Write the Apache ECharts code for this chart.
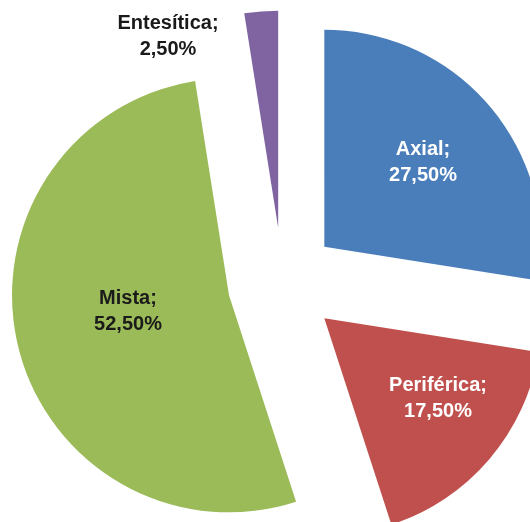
<!DOCTYPE html>
<html>
<head>
<meta charset="utf-8">
<script src="https://cdn.jsdelivr.net/npm/echarts@6/dist/echarts.min.js"></script>
<style>
  html, body { margin: 0; padding: 0; background: #fff; }
  #chart { width: 530px; height: 522px; }
</style>
</head>
<body>
<div id="chart"></div>
<script>
const categories = ['Axial', 'Periférica', 'Mista', 'Entesítica'];
const values = [27.5, 17.5, 52.5, 2.5];

const colors = ['#4a7ebb', '#c0504d', '#9bbb59', '#8064a2'];
const labelColors = ['#ffffff', '#ffffff', '#1a1a1a', '#1a1a1a'];
// label centres, same order as categories
const labelPos = [[423, 162], [438, 398], [128, 311], [168, 36]];

const chartInstance = echarts.init(document.getElementById('chart'));

const fmt = (v) => v.toFixed(2).replace('.', ',') + '%';

const option = {
    animation: false,
    graphic: categories.map((name, i) => ({
        type: 'text',
        x: labelPos[i][0],
        y: labelPos[i][1],
        z: 100,
        silent: true,
        style: {
            text: name + ';\n' + fmt(values[i]),
            fill: labelColors[i],
            font: 'bold 20px Arial, "Liberation Sans", sans-serif',
            lineHeight: 26,
            align: 'center',
            verticalAlign: 'middle',
        },
    })),
    series: [
        {
            type: 'pie',
            center: [282.5, 282.5],
            radius: 217,
            startAngle: 90,
            clockwise: true,
            selectedMode: 'multiple',
            selectedOffset: 55,
            emphasis: { disabled: true },
            itemStyle: { borderWidth: 0 },
            label: { show: false },
            labelLine: { show: false },
            data: categories.map((name, i) => ({
                name,
                value: values[i],
                selected: true,
                itemStyle: { color: colors[i] },
            })),
        },
    ],
};

chartInstance.setOption(option);
</script>
</body>
</html>
